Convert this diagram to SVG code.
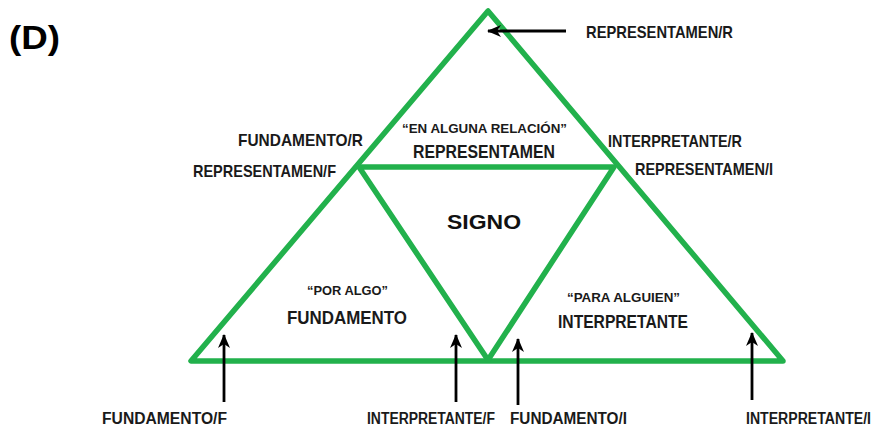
<svg xmlns="http://www.w3.org/2000/svg" width="877" height="430" viewBox="0 0 877 430">
<style>
.tri{fill:none;stroke:#22b14c;stroke-width:5.5;stroke-linejoin:round;stroke-linecap:round}
.arr{stroke:#000;stroke-width:2.8;fill:none}
.lbl{font-family:"Liberation Sans Narrow","Liberation Sans",Arial,sans-serif;fill:#1a1a1a;font-size:17px;font-weight:bold}
.sm{font-family:"Liberation Sans Narrow","Liberation Sans",Arial,sans-serif;fill:#1a1a1a;font-size:13px;font-weight:bold}
.big{font-family:"Liberation Sans Narrow","Liberation Sans",Arial,sans-serif;fill:#1a1a1a;font-size:19px;font-weight:bold}
</style>
<defs>
<marker id="ah" viewBox="0 0 14 12" refX="13" refY="6" markerWidth="14" markerHeight="12" markerUnits="userSpaceOnUse" orient="auto">
<path d="M0,0 L14,6 L0,12 L4,6 z" fill="#000"/>
</marker>
</defs>
<rect width="877" height="430" fill="#fff"/>
<text x="9" y="49" font-family="Liberation Sans,Arial,sans-serif" font-weight="bold" font-size="34" fill="#000" textLength="51" lengthAdjust="spacingAndGlyphs">(D)</text>

<g id="triangles">
<path class="tri" d="M488,11 L191,361 L783,361 Z"/>
<path class="tri" d="M359,167 L614,167 L488,360 Z"/>
</g>

<g id="connectors">
<line class="arr" x1="566" y1="31" x2="488" y2="31" marker-end="url(#ah)"/>
<line class="arr" x1="224" y1="402" x2="224" y2="335" marker-end="url(#ah)"/>
<line class="arr" x1="456" y1="402" x2="456" y2="335" marker-end="url(#ah)"/>
<line class="arr" x1="518" y1="405" x2="518" y2="339" marker-end="url(#ah)"/>
<line class="arr" x1="752" y1="400" x2="752" y2="333" marker-end="url(#ah)"/>
</g>

<g id="representamen">
<text class="sm" x="402" y="133" textLength="165" lengthAdjust="spacingAndGlyphs">“EN ALGUNA RELACIÓN”</text>
<text class="big" x="413" y="158" textLength="142" lengthAdjust="spacingAndGlyphs">REPRESENTAMEN</text>
</g>
<g id="signo">
<text x="447" y="229" font-family="Liberation Sans,Arial,sans-serif" font-weight="bold" font-size="20" fill="#111" textLength="74" lengthAdjust="spacingAndGlyphs">SIGNO</text>
</g>
<g id="fundamento">
<text class="sm" x="307" y="295" textLength="81" lengthAdjust="spacingAndGlyphs">“POR ALGO”</text>
<text class="big" x="287" y="324" textLength="120" lengthAdjust="spacingAndGlyphs">FUNDAMENTO</text>
</g>
<g id="interpretante">
<text class="sm" x="567" y="302" textLength="113" lengthAdjust="spacingAndGlyphs">“PARA ALGUIEN”</text>
<text class="big" x="558" y="328" textLength="130" lengthAdjust="spacingAndGlyphs">INTERPRETANTE</text>
</g>

<g id="labels">
<text class="lbl" x="586" y="38" textLength="147" lengthAdjust="spacingAndGlyphs">REPRESENTAMEN/R</text>
<text class="lbl" x="238" y="146" textLength="125" lengthAdjust="spacingAndGlyphs">FUNDAMENTO/R</text>
<text class="lbl" x="193" y="177" textLength="143" lengthAdjust="spacingAndGlyphs">REPRESENTAMEN/F</text>
<text class="lbl" x="608" y="147" textLength="134" lengthAdjust="spacingAndGlyphs">INTERPRETANTE/R</text>
<text class="lbl" x="635" y="175" textLength="138" lengthAdjust="spacingAndGlyphs">REPRESENTAMEN/I</text>
<text class="lbl" transform="translate(102,424) scale(0.92,1)" x="0" y="0" textLength="135.9" lengthAdjust="spacingAndGlyphs">FUNDAMENTO/F</text>
<text class="lbl" transform="translate(367,424) scale(0.81,1)" x="0" y="0" textLength="158" lengthAdjust="spacingAndGlyphs">INTERPRETANTE/F</text>
<text class="lbl" transform="translate(510,424) scale(0.9,1)" x="0" y="0" textLength="130" lengthAdjust="spacingAndGlyphs">FUNDAMENTO/I</text>
<text class="lbl" transform="translate(746,424) scale(0.82,1)" x="0" y="0" textLength="152.4" lengthAdjust="spacingAndGlyphs">INTERPRETANTE/I</text>
</g>
</svg>
